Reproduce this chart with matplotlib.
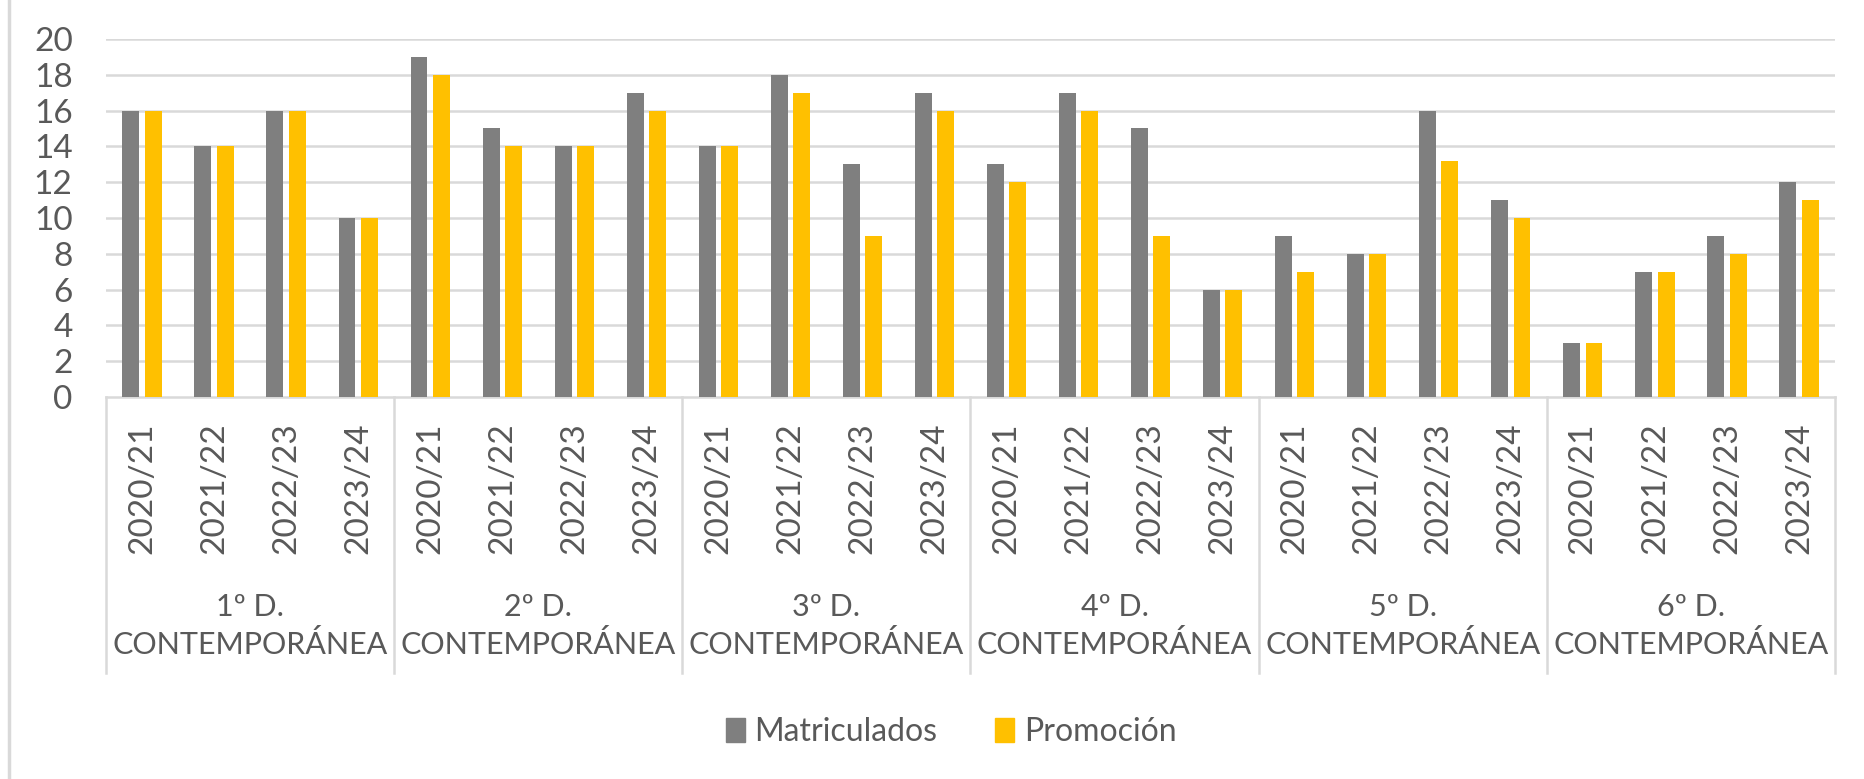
import matplotlib.pyplot as plt
import matplotlib.lines as mlines
import matplotlib.patches as mpatches
import numpy as np

plt.rcParams['font.family'] = ['Lato', 'DejaVu Sans']

groups = ["1º D.\nCONTEMPORÁNEA", "2º D.\nCONTEMPORÁNEA", "3º D.\nCONTEMPORÁNEA",
          "4º D.\nCONTEMPORÁNEA", "5º D.\nCONTEMPORÁNEA", "6º D.\nCONTEMPORÁNEA"]
years = ["2020/21", "2021/22", "2022/23", "2023/24"]

matriculados = [16, 14, 16, 10,
                19, 15, 14, 17,
                14, 18, 13, 17,
                13, 17, 15, 6,
                9, 8, 16, 11,
                3, 7, 9, 12]
promocion = [16, 14, 16, 10,
             18, 14, 14, 16,
             14, 17, 9, 16,
             12, 16, 9, 6,
             7, 8, 13.2, 10,
             3, 7, 8, 11]

grey = "#7f7f7f"
yellow = "#ffc000"
line_col = "#d9d9d9"
text_col = "#595959"

W, H = 1865, 779
fig = plt.figure(figsize=(W / 100, H / 100), dpi=100)
ax = fig.add_axes([106 / W, (H - 397) / H, (1835 - 106) / W, (397 - 39) / H])

n = len(matriculados)
x = np.arange(n)
ax.bar(x - 0.155, matriculados, width=0.235, color=grey, zorder=3)
ax.bar(x + 0.155, promocion, width=0.235, color=yellow, zorder=3)

ax.set_xlim(-0.5, n - 0.5)
ax.set_ylim(0, 20)
ax.set_yticks(range(0, 21, 2))
for v in range(2, 21, 2):
    ax.axhline(v, color=line_col, lw=1.8, zorder=1)

for s in ["top", "right", "left"]:
    ax.spines[s].set_visible(False)
ax.spines["bottom"].set_color(line_col)
ax.spines["bottom"].set_linewidth(1.8)

ax.set_xticks(x)
ax.set_xticklabels(years * len(groups), rotation=90, va="top", ha="center")
ax.tick_params(axis="x", length=0, pad=18, labelsize=24, labelcolor=text_col)
ax.tick_params(axis="y", length=0, pad=24, labelsize=24, labelcolor=text_col)

# group boxes below the axis
box_bottom = (397 - 673) / (397 - 39)
trans = ax.get_xaxis_transform()
for b in range(len(groups) + 1):
    xb = b * len(years) - 0.5
    ax.add_line(mlines.Line2D([xb, xb], [0, box_bottom], transform=trans,
                              color=line_col, lw=1.8, clip_on=False))
for i, g in enumerate(groups):
    xc = i * len(years) + (len(years) - 1) / 2
    ax.text(xc, (397 - 626) / (397 - 39), g, transform=trans, ha="center", va="center",
            fontsize=22, color=text_col, linespacing=1.35)

# chart border on the left
fig.add_artist(mlines.Line2D([9 / W, 9 / W], [0, 1], color=line_col, lw=2.5))

handles = [mpatches.Patch(color=grey, label="Matriculados"),
           mpatches.Patch(color=yellow, label="Promoción")]
leg = fig.legend(handles=handles, loc="center", bbox_to_anchor=(951 / W, (H - 732) / H),
                 ncol=2, frameon=False, fontsize=23, handlelength=0.6, handleheight=0.8,
                 handletextpad=0.3, columnspacing=1.8)
for t in leg.get_texts():
    t.set_color(text_col)

fig.savefig("out.png", dpi=100)
